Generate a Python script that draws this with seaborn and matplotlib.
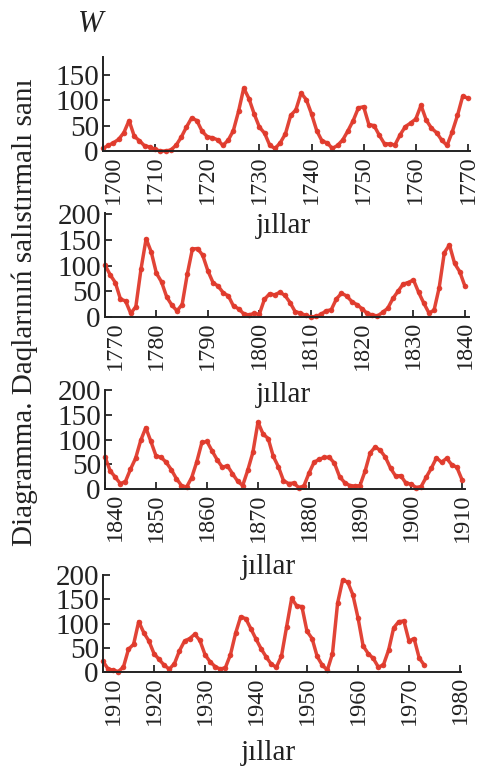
import numpy as np
import pandas as pd
import matplotlib
matplotlib.use("Agg")
import matplotlib.pyplot as plt
import seaborn as sns

# Wolf numbers (yearly)
years1 = list(range(1700, 1771))
w1 = [5, 11, 16, 23, 36, 60, 29, 20, 10, 8, 3, 0, 0, 2, 11, 27, 47, 65, 60, 39,
      28, 26, 22, 11, 21, 40, 78, 124, 103, 73, 47, 35, 11, 5, 16, 34, 70, 81, 114, 101,
      73, 40, 20, 16, 5, 11, 22, 40, 60, 85, 87, 52, 50, 31, 14, 14, 12, 32, 48, 55,
      63, 90, 61, 45, 36, 21, 11, 38, 70, 108, 104]

years2 = list(range(1770, 1841))
w2 = [101, 82, 67, 35, 31, 7, 20, 93, 152, 126, 85, 68, 39, 23, 12, 24, 83, 132, 133, 120,
      90, 67, 60, 47, 41, 21, 16, 6, 4, 7, 5, 34, 45, 43, 48, 42, 28, 10, 8, 3,
      0, 1, 5, 12, 14, 35, 46, 41, 30, 24, 16, 7, 4, 2, 9, 17, 36, 50, 64, 67,
      72, 48, 27, 8, 13, 57, 125, 140, 104, 88, 60]

years3 = list(range(1840, 1911))
w3 = [65, 37, 24, 11, 15, 40, 62, 98, 124, 96, 67, 64, 54, 39, 21, 7, 4, 23, 55, 94,
      96, 77, 59, 44, 47, 31, 16, 7, 38, 74, 135, 111, 102, 66, 45, 17, 11, 12, 3, 6,
      32, 54, 60, 64, 64, 52, 25, 13, 7, 6, 7, 36, 73, 85, 78, 64, 42, 26, 27, 12,
      10, 3, 5, 24, 42, 63, 54, 62, 49, 44, 19]

years4 = list(range(1910, 1974))
w4 = [22, 6, 4, 1, 10, 47, 57, 104, 81, 64, 38, 26, 14, 6, 17, 44, 64, 69, 78, 65,
      36, 21, 11, 6, 9, 36, 80, 114, 110, 89, 68, 48, 31, 16, 10, 33, 93, 152, 136, 135,
      84, 69, 32, 14, 4, 38, 142, 190, 185, 159, 112, 54, 38, 28, 10, 15, 45, 91, 104, 105,
      64, 69, 29, 14]

panels = [
    (years1, w1, (1700, 1770.4), [0, 50, 100, 150], 185, [103, 470, 151, 57]),
    (years2, w2, (1770, 1840.8), [0, 50, 100, 150, 200], 202, [105, 469, 317, 213]),
    (years3, w3, (1840, 1910.6), [0, 50, 100, 150, 200], 200, [105, 465, 489, 390]),
    (years4, w4, (1910, 1980.2), [0, 50, 100, 150, 200], 200, [103, 461, 672, 575]),
]
xlabel_pos = [(283, 226), (283, 395), (268, 567), (268, 753)]

sns.set_style("ticks")
plt.rcParams['font.family'] = ['Liberation Serif', 'DejaVu Serif']

W, H = 480, 775
fig = plt.figure(figsize=(W / 100, H / 100), dpi=100)
red = '#e03a2c'
ink = '#222222'

for (yrs, vals, xl, yt, ytop, box), (lx, ly) in zip(panels, xlabel_pos):
    l, r, b, t = box
    ax = fig.add_axes([l / W, (H - b) / H, (r - l) / W, (b - t) / H])
    df = pd.DataFrame({'year': yrs, 'W': vals})
    sns.lineplot(data=df, x='year', y='W', ax=ax, color=red, linewidth=2.5,
                 marker='o', markersize=4, markeredgewidth=0, alpha=0.95)
    for ln in ax.lines:
        ln.set_clip_on(False)
    ax.set_xlim(*xl)
    ax.set_ylim(0, ytop)
    ax.set_xticks(np.arange(xl[0], xl[0] + 71, 10))
    ax.set_yticks(yt)
    ax.tick_params(axis='x', direction='in', length=5, width=1.3, labelsize=17.5,
                   labelrotation=90, pad=3, labelcolor=ink)
    ax.tick_params(axis='y', direction='in', length=5, width=1.3, labelsize=21,
                   pad=3, labelcolor=ink)
    # first year label sits a little to the right of its tick, as in the original
    ax.get_xticklabels()[0].set_horizontalalignment('left')
    for s in ['top', 'right']:
        ax.spines[s].set_visible(False)
    for s in ['left', 'bottom']:
        ax.spines[s].set_linewidth(1.4)
        ax.spines[s].set_color(ink)
    ax.set_xlabel('')
    ax.set_ylabel('')
    fig.text(lx / W, (H - ly) / H, 'jıllar', ha='center', va='center', fontsize=21,
             color=ink)

fig.text(91 / W, (H - 24) / H, 'W', ha='center', va='center', fontsize=22,
         style='italic', color=ink)
fig.text(25 / W, (H - 312) / H, 'Diagramma. Daqlarınıń salıstırmalı sanı',
         rotation=90, ha='center', va='center', fontsize=21, color=ink)

fig.savefig('out.png', dpi=100)
